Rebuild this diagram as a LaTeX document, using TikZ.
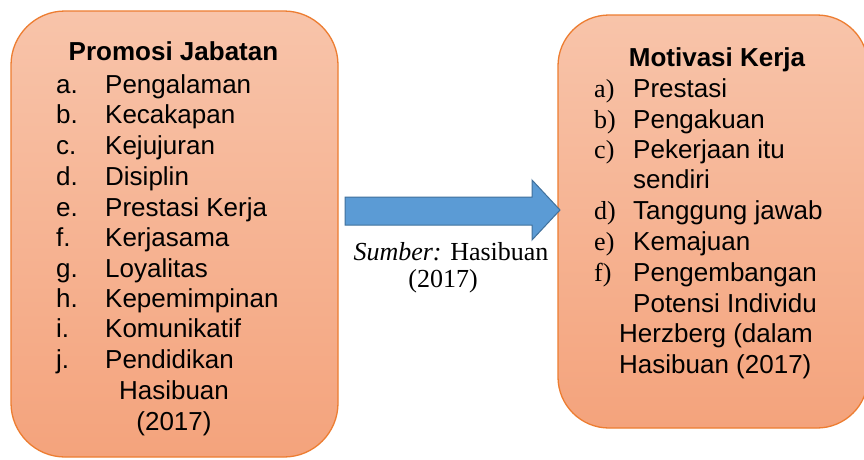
\documentclass[tikz,border=0pt]{standalone}
\usepackage{fontspec}
\setmainfont{Liberation Sans}
\newfontfamily\tnr{Liberation Serif}
\definecolor{boxtop}{RGB}{248,196,170}
\definecolor{boxbot}{RGB}{244,163,124}
\definecolor{boxline}{RGB}{237,125,49}
\definecolor{arrfill}{RGB}{91,155,213}
\definecolor{arrline}{RGB}{65,113,156}
\tikzset{
  box/.style={draw=boxline, line width=1.3pt, top color=boxtop, bottom color=boxbot, inner sep=0pt},
  txt/.style={anchor=base west, inner sep=0pt, font=\fontsize{26}{30}\selectfont},
  ctxt/.style={anchor=base, inner sep=0pt, font=\fontsize{26}{30}\selectfont},
  ttl/.style={anchor=base, inner sep=0pt, font=\fontsize{26}{30}\selectfont\bfseries},
  lbl/.style={anchor=base west, inner sep=0pt, font=\fontsize{26}{30}\selectfont},
  serif/.style={font=\fontsize{26}{30}\selectfont\tnr},
  arrowshape/.style={fill=arrfill, draw=arrline, line width=1pt, line join=miter}
}
\begin{document}
\begin{tikzpicture}[x=1pt,y=-1pt]
\useasboundingbox (0,0) rectangle (864,459);
\clip (0,0) rectangle (864,459);
\fill[white] (0,0) rectangle (864,459);
% boxes
\draw[box, rounded corners=54pt] (11,11) rectangle (338,457);
\draw[box, rounded corners=51pt] (558,15) rectangle (868,428);
\node[inner sep=0pt] (leftbox) at (174.5,234) {};
\node[inner sep=0pt] (rightbox) at (713,221) {};
% left text
\node[ttl] (lt) at (173.5,60) {Promosi Jabatan};
\foreach \l/\t/\y [count=\i] in {a./Pengalaman/93, b./Kecakapan/123, c./Kejujuran/154, d./Disiplin/185, e./Prestasi Kerja/216, f./Kerjasama/246, g./Loyalitas/277, h./Kepemimpinan/307, i./Komunikatif/337, j./Pendidikan/368}{
  \node[lbl] (ll\i) at (56,\y) {\l};
  \node[txt] (lx\i) at (105,\y) {\t};
}
\node[ctxt] (lh) at (174,399) {Hasibuan};
\node[ctxt] (ly) at (174,430) {(2017)};
% right text
\node[ttl] (rt) at (717,66) {Motivasi Kerja};
\foreach \l/\t/\y [count=\i] in {a)/Prestasi/97, b)/Pengakuan/128, c)/Pekerjaan itu/158, d)/Tanggung jawab/219, e)/Kemajuan/250, f)/Pengembangan/281}{
  \node[lbl, serif] (rl\i) at (594,\y) {\l};
  \node[txt] (rx\i) at (633,\y) {\t};
}
\node[txt] (rs) at (633,188) {sendiri};
\node[txt] (rp) at (633,312) {Potensi Individu};
\node[txt] (rh) at (619,342) {Herzberg (dalam};
\node[txt] (rh2) at (619,373) {Hasibuan (2017)};
% arrow
\draw[arrowshape] (345,197) -- (532,197) -- (532,180) -- (560,210) -- (532,240) -- (532,225) -- (345,225) -- cycle;
\coordinate (arrtip) at (560,210);
% source
\node[anchor=base, inner sep=0pt, serif] (src) at (451,260) {\textit{Sumber:} Hasibuan};
\node[anchor=base, inner sep=0pt, serif] (srcy) at (443,287) {(2017)};
\end{tikzpicture}
\end{document}
